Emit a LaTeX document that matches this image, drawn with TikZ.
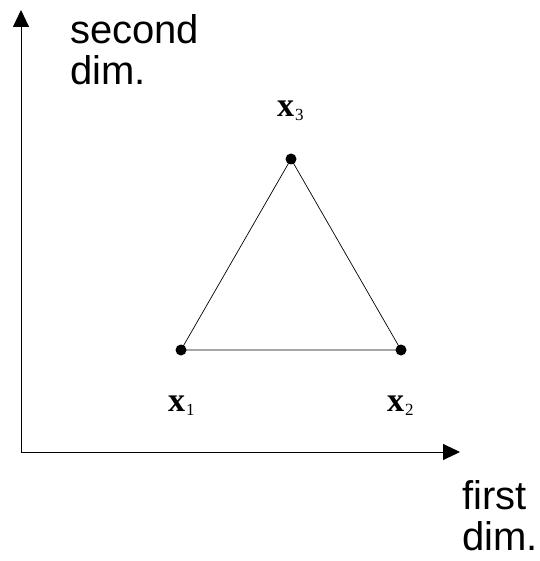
\documentclass[tikz,border=0pt]{standalone}
\usepackage{fontspec}
\setmainfont{Liberation Sans}
\newfontfamily\serifx{Liberation Serif}
\usetikzlibrary{arrows.meta}
\tikzset{
  axis/.style={line width=0.9pt, -{Triangle[length=17pt,width=16pt]}},
  edge/.style={line width=0.7pt},
  dot/.style={circle, fill=black, inner sep=0pt, minimum size=11pt},
  axlabel/.style={align=left, inner sep=0pt, font=\fontsize{40}{41}\selectfont},
  ptlabel/.style={inner sep=0pt, anchor=base west, font=\serifx\fontsize{34}{34}\selectfont}
}
\newcommand{\ptname}[1]{\textbf{x}\kern1pt\raisebox{-4pt}{\fontsize{17}{17}\selectfont #1}}
\begin{document}
\begin{tikzpicture}[x=1pt,y=-1pt]
\useasboundingbox (0,0) rectangle (539,561);
\coordinate (o) at (21,452);
\coordinate (ytip) at (21,10);
\coordinate (xtip) at (460,452);
\draw[axis] (o) -- (ytip);
\draw[axis] (o) -- (xtip);
\node[dot] (p1) at (181,350) {};
\node[dot] (p2) at (401,350) {};
\node[dot] (p3) at (291,159) {};
\draw[edge] (p1.center) -- (p2.center) -- (p3.center) -- cycle;
\node[ptlabel] (l3) at (277,117) {\ptname{3}};
\node[ptlabel] (l1) at (168,411) {\ptname{1}};
\node[ptlabel] (l2) at (387,411) {\ptname{2}};
\node[axlabel, anchor=base west] (yl) at (70,85) {second\\dim.};
\node[axlabel, anchor=base west] (xl) at (462,550) {first\\dim.};
\end{tikzpicture}
\end{document}
